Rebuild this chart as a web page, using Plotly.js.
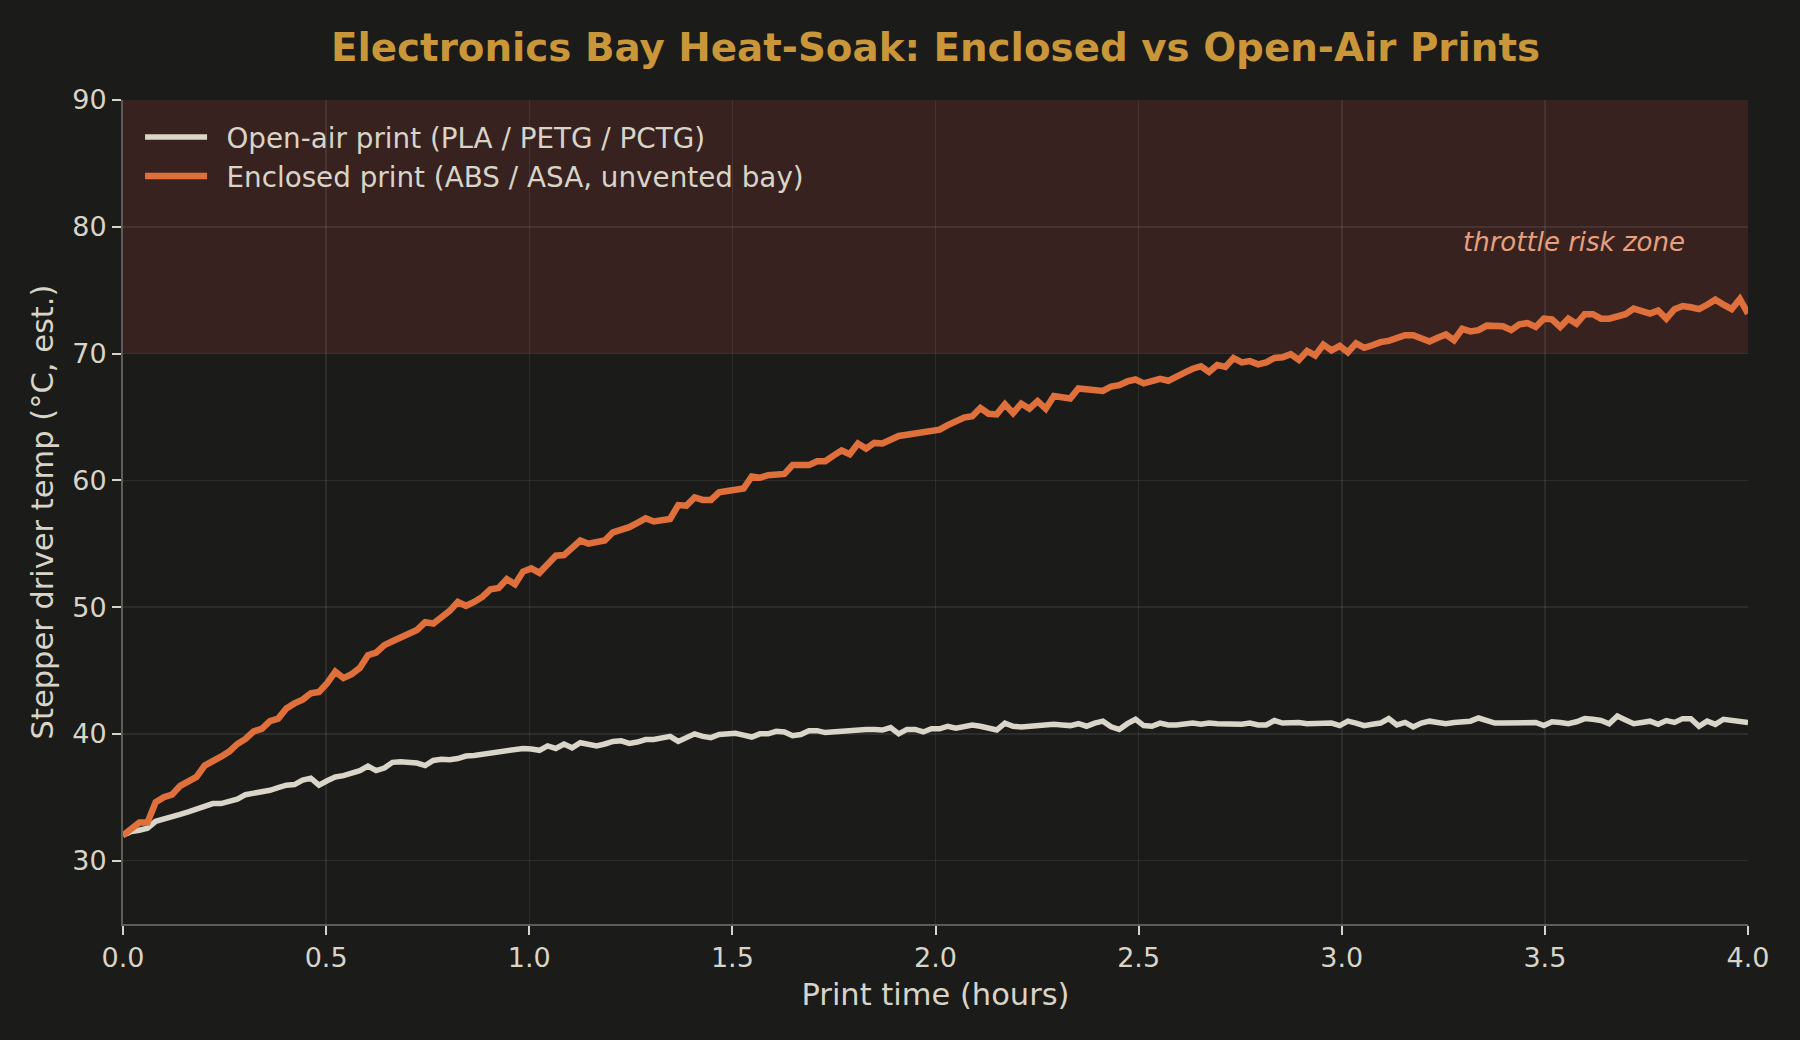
<!DOCTYPE html>
<html>
<head>
<meta charset="utf-8">
<script src="https://cdn.plot.ly/plotly-3.0.1.min.js"></script>
<style>
  html, body { margin: 0; padding: 0; background: #1b1b19; }
  #chart { width: 1800px; height: 1040px; }
</style>
</head>
<body>
<div id="chart"></div>
<script>
// 200 readings, evenly spaced over the 4 hour print (start at 0 h, end at 4 h)
const startHour = 0;
const stepHour = 4 / 199;

const openAirLabel = 'Open-air print (PLA / PETG / PCTG)';
const enclosedLabel = 'Enclosed print (ABS / ASA, unvented bay)';

// stepper driver temperature, °C (estimated)
const openAirTemp = [
  32.0, 32.3, 32.4, 32.55, 33.1, 33.25, 33.4, 33.65, 33.85, 34.1,
  34.35, 34.5, 34.5, 34.7, 34.85, 35.2, 35.3, 35.4, 35.55, 35.75,
  35.95, 36.0, 36.35, 36.5, 35.95, 36.3, 36.6, 36.7, 36.9, 37.1,
  37.45, 37.1, 37.3, 37.75, 37.8, 37.75, 37.7, 37.5, 37.9, 38.0,
  37.95, 38.05, 38.25, 38.3, 38.4, 38.5, 38.55, 38.6, 38.75, 38.85,
  38.8, 38.7, 39.05, 38.85, 39.2, 38.9, 39.3, 39.15, 39.05, 39.2,
  39.4, 39.45, 39.25, 39.35, 39.55, 39.55, 39.65, 39.8, 39.4, 39.75,
  40.0, 39.8, 39.7, 39.95, 39.95, 40.05, 39.9, 39.75, 40.0, 40.0,
  40.2, 40.15, 39.85, 39.95, 40.25, 40.25, 40.1, 40.15, 40.25, 40.3,
  40.4, 40.35, 40.35, 40.3, 40.5, 40.0, 40.35, 40.35, 40.15, 40.4,
  40.4, 40.6, 40.45, 40.6, 40.7, 40.6, 40.45, 40.3, 40.85, 40.6,
  40.55, 40.6, 40.65, 40.8, 40.75, 40.7, 40.65, 40.8, 40.6, 40.85,
  41.0, 40.55, 40.35, 40.8, 41.15, 40.65, 40.6, 40.85, 40.7, 40.7,
  40.75, 40.85, 40.75, 40.85, 40.8, 40.75, 40.75, 40.75, 40.85, 40.7,
  40.7, 41.05, 40.85, 40.9, 40.9, 40.8, 40.85, 40.9, 40.85, 40.65,
  41.0, 40.85, 40.65, 40.75, 40.85, 41.2, 40.7, 40.9, 40.55, 40.85,
  41.0, 40.9, 40.8, 40.9, 41.0, 41.0, 41.25, 41.0, 40.85, 40.85,
  40.85, 40.85, 40.9, 40.9, 40.65, 40.95, 40.9, 40.8, 40.95, 41.2,
  41.15, 41.05, 40.8, 41.4, 41.1, 40.8, 40.9, 41.0, 40.75, 41.05,
  40.9, 41.2, 41.2, 40.6, 41.0, 40.75, 41.15, 41.1, 41.05, 40.9
];

const enclosedTemp = [
  32.0, 32.5, 33.0, 33.0, 34.6, 35.0, 35.2, 35.9, 36.3, 36.6,
  37.5, 37.8, 38.2, 38.6, 39.2, 39.6, 40.2, 40.4, 41.0, 41.2,
  42.0, 42.4, 42.7, 43.2, 43.3, 44.0, 44.9, 44.4, 44.7, 45.2,
  46.2, 46.4, 47.0, 47.3, 47.6, 47.9, 48.2, 48.8, 48.7, 49.2,
  49.7, 50.4, 50.1, 50.4, 50.8, 51.4, 51.5, 52.2, 51.8, 52.8,
  53.05, 52.7, 53.4, 54.05, 54.1, 54.7, 55.25, 55.0, 55.15, 55.25,
  55.9, 56.05, 56.3, 56.65, 57.0, 56.75, 56.8, 56.95, 58.05, 58.0,
  58.65, 58.45, 58.45, 59.05, 59.15, 59.2, 59.35, 60.3, 60.2, 60.4,
  60.45, 60.5, 61.2, 61.2, 61.2, 61.5, 61.5, 61.95, 62.35, 62.05,
  62.9, 62.5, 62.95, 62.9, 63.2, 63.5, 63.6, 63.7, 63.85, 64.0,
  64.0, 64.35, 64.65, 64.95, 65.05, 65.7, 65.25, 65.2, 66.0, 65.3,
  66.05, 65.65, 66.25, 65.65, 66.65, 66.55, 66.45, 67.25, 67.15, 67.1,
  67.05, 67.4, 67.5, 67.8, 67.95, 67.65, 67.8, 68.0, 67.85, 68.25,
  68.5, 68.8, 69.0, 68.55, 69.1, 68.95, 69.65, 69.3, 69.4, 69.15,
  69.3, 69.65, 69.7, 69.95, 69.5, 70.2, 69.85, 70.7, 70.25, 70.6,
  70.1, 70.8, 70.45, 70.65, 70.9, 71.0, 71.25, 71.45, 71.45, 71.25,
  70.95, 71.25, 71.5, 71.05, 71.95, 71.75, 71.85, 72.2, 72.2, 72.15,
  71.85, 72.3, 72.4, 72.1, 72.75, 72.7, 72.1, 72.75, 72.35, 73.1,
  73.1, 72.75, 72.75, 72.95, 73.1, 73.55, 73.35, 73.15, 73.4, 72.75,
  73.5, 73.75, 73.65, 73.5, 73.85, 74.25, 73.85, 73.5, 74.3, 73.15
];

// throttle risk band
const riskLow = 70;
const riskHigh = 90;
const riskLabel = 'throttle risk zone';

const BG = '#1b1b19';
const TEXT = '#d8d4c8';
const FONT = 'DejaVu Sans, Verdana, sans-serif';
const PAD = '\u00a0\u2009'; // wider gap between legend line and label

let traces = [
  {
    y: openAirTemp,
    x0: startHour,
    dx: stepHour,
    type: 'scatter',
    mode: 'lines',
    name: PAD + openAirLabel,
    legendgroup: 'open',
    line: { color: '#d9d5c9', width: 5.5 }
  },
  {
    y: enclosedTemp,
    x0: startHour,
    dx: stepHour,
    type: 'scatter',
    mode: 'lines',
    name: PAD + enclosedLabel,
    legendgroup: 'enclosed',
    line: { color: '#df703b', width: 6.5 }
  }
];

let layout = {
  width: 1800,
  height: 1040,
  paper_bgcolor: BG,
  plot_bgcolor: BG,
  font: { family: FONT, color: TEXT, size: 27 },
  margin: { l: 123, r: 52, t: 100, b: 116 },
  showlegend: true,
  title: {
    text: '<b>Electronics Bay Heat-Soak: Enclosed vs Open-Air Prints</b>',
    font: { family: FONT, size: 38.8, color: '#c9963a' },
    x: 0.5,
    xref: 'paper',
    xanchor: 'center',
    y: 1 - 47 / 1040,
    yref: 'container',
    yanchor: 'middle'
  },
  xaxis: {
    range: [0, 4],
    dtick: 0.5,
    tickformat: '.1f',
    showgrid: true,
    gridcolor: 'rgba(255,255,255,0.08)',
    gridwidth: 1.5,
    zeroline: false,
    showline: true,
    linecolor: '#5d5c56',
    linewidth: 2,
    ticks: 'outside',
    ticklen: 9,
    tickwidth: 2,
    tickcolor: TEXT,
    tickfont: { size: 27, color: TEXT },
    title: { text: 'Print time (hours)', font: { size: 30.5, color: TEXT }, standoff: 11 }
  },
  yaxis: {
    range: [25, 90],
    dtick: 10,
    showgrid: true,
    gridcolor: 'rgba(255,255,255,0.08)',
    gridwidth: 1.5,
    zeroline: false,
    showline: true,
    linecolor: '#5d5c56',
    linewidth: 2,
    ticks: 'outside',
    ticklen: 9,
    tickwidth: 2,
    tickcolor: TEXT,
    tickfont: { size: 27, color: TEXT },
    title: { text: 'Stepper driver temp (°C, est.)', font: { size: 30.5, color: TEXT }, standoff: 10 }
  },
  legend: {
    x: 0.0105,
    y: 0.985,
    xanchor: 'left',
    yanchor: 'top',
    bgcolor: 'rgba(0,0,0,0)',
    borderwidth: 0,
    font: { size: 27.8, color: TEXT },
    itemwidth: 62,
    traceorder: 'normal',
    tracegroupgap: 3
  },
  shapes: [
    {
      type: 'rect',
      xref: 'paper',
      x0: 0,
      x1: 1,
      yref: 'y',
      y0: riskLow,
      y1: riskHigh,
      fillcolor: '#38221f',
      line: { width: 0 },
      layer: 'below'
    }
  ],
  annotations: [
    {
      x: 3.85,
      y: 78.8,
      xref: 'x',
      yref: 'y',
      xanchor: 'right',
      yanchor: 'middle',
      text: riskLabel,
      showarrow: false,
      font: { family: FONT, size: 26, color: '#e6a07e', style: 'italic' }
    }
  ]
};

Plotly.newPlot(document.getElementById('chart'), traces, layout, { displayModeBar: false, staticPlot: true });
</script>
</body>
</html>
